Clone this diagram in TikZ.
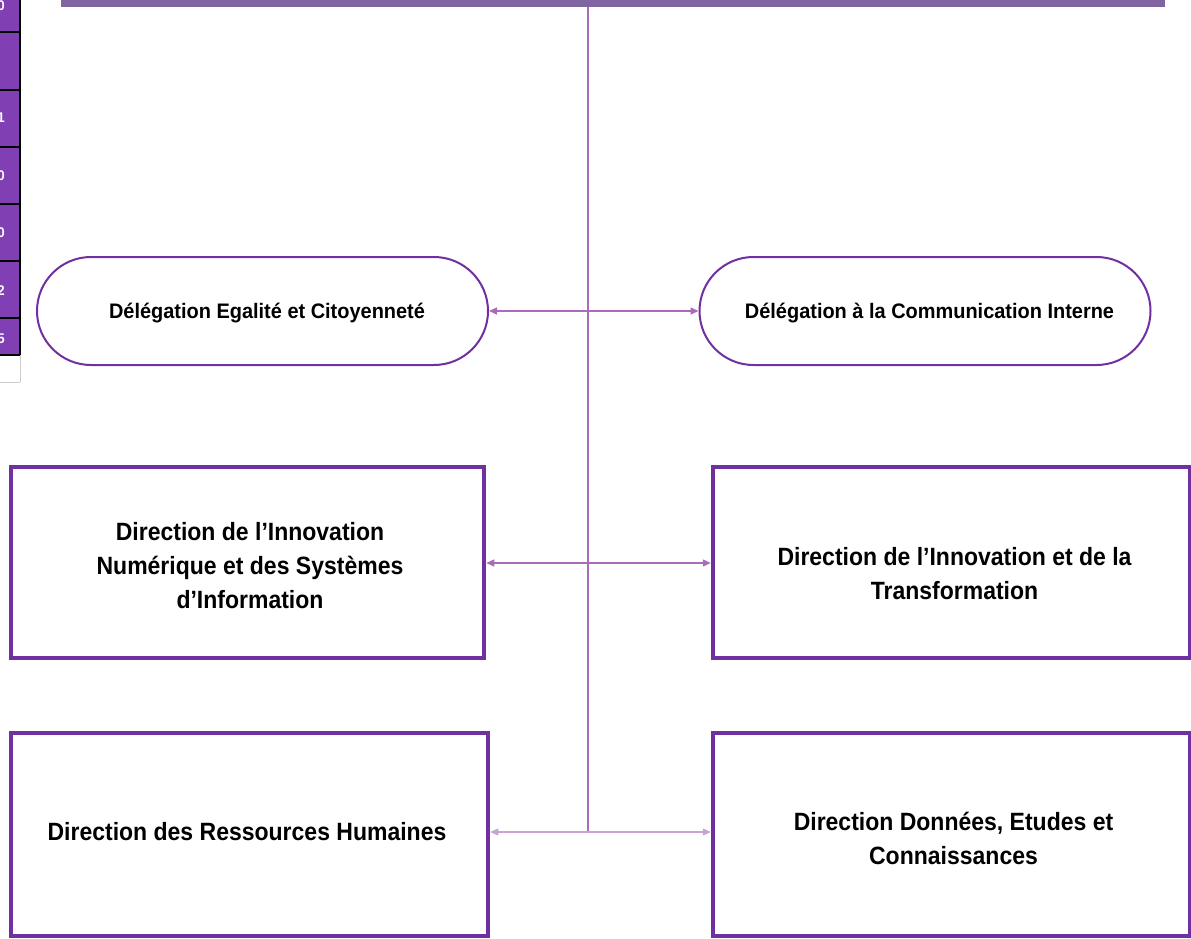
\documentclass[tikz,border=0pt]{standalone}
\usepackage{fontspec}
\setmainfont{Liberation Sans}
\newfontfamily\pillfont{Liberation Sans Bold}[FakeStretch=0.95]
\newfontfamily\boxfont{Liberation Sans Bold}[FakeStretch=0.92]
\usetikzlibrary{arrows.meta}
\definecolor{bord}{HTML}{7030A0}
\definecolor{bar}{HTML}{8064A2}
\definecolor{conn}{HTML}{A86CB8}
\definecolor{connlight}{HTML}{C9A3D3}
\definecolor{cell}{HTML}{8040B4}
\tikzset{
  x=1pt,y=-1pt,
  pill/.style={draw=bord,line width=2pt,rounded corners=54pt,minimum width=451pt,minimum height=108pt,inner sep=0pt},
  dirbox/.style={draw=bord,line width=4.5pt,inner sep=0pt},
  pilltext/.style={inner sep=0pt,font=\pillfont\fontsize{21}{24}\selectfont,align=center},
  boxtext/.style={inner sep=0pt,font=\boxfont\fontsize{25}{34}\selectfont,align=center},
  link/.style={draw=conn,line width=1.3pt,{Triangle[length=8pt,width=7pt]}-{Triangle[length=8pt,width=7pt]}},
  tcell/.style={draw=black,line width=1.2pt,fill=cell},
  tnum/.style={anchor=east,text=white,font=\pillfont\fontsize{14}{15}\selectfont,inner sep=0pt},
}
\begin{document}
\begin{tikzpicture}
\useasboundingbox (0,0) rectangle (1191,939);
% partial table at left edge
\foreach \a/\b in {-5/32,32/90,90/147,147/204,204/261,261/318,318/355}{
  \draw[tcell] (-5,\a) rectangle (20,\b);
}
\draw[draw=black!20,line width=0.8pt] (20,355) -- (20,382) (-5,382) -- (20,382);
\node[tnum] (n0) at (5,6) {0};
\node[tnum] (n1) at (5,118) {1};
\node[tnum] (n2) at (5,176) {0};
\node[tnum] (n3) at (5,233) {0};
\node[tnum] (n4) at (5,291) {2};
\node[tnum] (n5) at (5,339) {5};
% top bar
\fill[bar] (61,-2) rectangle (1165,7);
\coordinate (top) at (588,7);
\coordinate (bot) at (588,833);
\draw[conn,line width=1.3pt] (top) -- (bot);
% shapes
\node[pill] (d1) at (262.5,311) {};
\node[pill] (d2) at (925,311) {};
\node[dirbox,minimum width=473pt,minimum height=191pt] (r1) at (247.5,562.5) {};
\node[dirbox,minimum width=477pt,minimum height=191pt] (r2) at (951.5,562.5) {};
\node[dirbox,minimum width=477pt,minimum height=203pt] (r3) at (249.5,834.5) {};
\node[dirbox,minimum width=477pt,minimum height=203pt] (r4) at (951.5,834.5) {};
% texts
\node[pilltext] (t1) at (267,313) {Délégation Egalité et Citoyenneté};
\node[pilltext] (t2) at (929.5,313) {Délégation à la Communication Interne};
\node[boxtext] (t3) at (250,566) {Direction de l’Innovation\\Numérique et des Systèmes\\d’Information};
\node[boxtext] (t4) at (954.5,574) {Direction de l’Innovation et de la\\Transformation};
\node[boxtext] (t5) at (247,832) {Direction des Ressources Humaines};
\node[boxtext] (t6) at (953.5,838) {Direction Données, Etudes et\\Connaissances};
% connectors
\draw[link] (d1.east) -- (d2.west);
\draw[link] (r1.east |- 0,563) -- (r2.west |- 0,563);
\draw[link,draw=connlight] (r3.east |- 0,832) -- (r4.west |- 0,832);
\end{tikzpicture}
\end{document}
